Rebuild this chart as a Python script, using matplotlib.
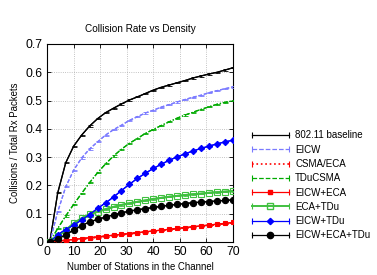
import matplotlib.pyplot as plt
from matplotlib.lines import Line2D
from matplotlib.legend_handler import HandlerBase

plt.rcParams['font.family'] = ['Liberation Sans', 'DejaVu Sans']

stations = list(range(1, 71, 3))

baseline = [0, 0.174, 0.28, 0.339, 0.378, 0.41, 0.436, 0.457, 0.473, 0.488, 0.502, 0.513,
            0.525, 0.537, 0.547, 0.555, 0.563, 0.571, 0.58, 0.587, 0.594, 0.60, 0.608, 0.616]
eicw = [0, 0.107, 0.195, 0.254, 0.297, 0.329, 0.354, 0.378, 0.397, 0.413, 0.43, 0.443,
        0.456, 0.466, 0.477, 0.486, 0.495, 0.504, 0.512, 0.519, 0.528, 0.535, 0.542, 0.548]
csma_eca = [0, 0.003, 0.006, 0.008, 0.011, 0.014, 0.017, 0.02, 0.023, 0.026, 0.029, 0.032,
            0.035, 0.038, 0.041, 0.044, 0.047, 0.05, 0.053, 0.056, 0.059, 0.062, 0.065, 0.068]
tducsma = [0, 0.048, 0.092, 0.133, 0.172, 0.21, 0.245, 0.276, 0.304, 0.328, 0.349, 0.366,
           0.384, 0.398, 0.412, 0.425, 0.438, 0.449, 0.459, 0.469, 0.478, 0.487, 0.494, 0.499]
eicw_eca = [0, 0.003, 0.006, 0.009, 0.012, 0.015, 0.018, 0.021, 0.024, 0.027, 0.03, 0.033,
            0.036, 0.039, 0.042, 0.045, 0.048, 0.051, 0.054, 0.057, 0.06, 0.063, 0.066, 0.069]
eca_tdu = [0, 0.021, 0.042, 0.066, 0.084, 0.098, 0.107, 0.116, 0.124, 0.131, 0.137, 0.142,
           0.147, 0.152, 0.156, 0.16, 0.163, 0.166, 0.169, 0.171, 0.174, 0.176, 0.178, 0.18]
eicw_tdu = [0, 0.026, 0.044, 0.06, 0.078, 0.097, 0.119, 0.138, 0.159, 0.182, 0.204, 0.225,
            0.243, 0.26, 0.275, 0.289, 0.301, 0.312, 0.322, 0.331, 0.339, 0.347, 0.354, 0.36]
eicw_eca_tdu = [0, 0.01, 0.026, 0.042, 0.058, 0.071, 0.08, 0.088, 0.096, 0.103, 0.109, 0.114,
                0.118, 0.122, 0.126, 0.13, 0.133, 0.136, 0.139, 0.141, 0.143, 0.145, 0.147, 0.149]

labels = ['802.11 baseline', 'EICW', 'CSMA/ECA', 'TDuCSMA',
          'EICW+ECA', 'ECA+TDu', 'EICW+TDu', 'EICW+ECA+TDu']
series = [baseline, eicw, csma_eca, tducsma, eicw_eca, eca_tdu, eicw_tdu, eicw_eca_tdu]
colors = ['black', '#7a7aff', 'red', '#00aa00', 'red', '#40c040', '#0000ff', 'black']
styles = ['-', (0, (3, 1.5)), ':', (0, (4, 1.5, 1, 1.5)), '-', '-', '-', '-']
markers = [None, None, None, None, 's', 's', 'D', 'o']
msizes = [0, 0, 0, 0, 3.5, 4, 3.2, 4.5]
mfaces = [None, None, None, None, 'red', 'none', '#0000ff', 'black']
lwidths = [0.9, 0.9, 1.2, 0.9, 0.9, 1.4, 0.9, 0.9]


class CapHandler(HandlerBase):
    def create_artists(self, legend, orig, xd, yd, w, h, fs, trans):
        y = h / 2 - yd
        x0, x1 = -xd, -xd + w
        line = Line2D([x0, x1], [y, y], color=orig.get_color(), lw=orig.get_linewidth(),
                      linestyle=orig.get_linestyle())
        caps = Line2D([x0, x1], [y, y], color=orig.get_color(), lw=0, marker='|',
                      markersize=5, markeredgewidth=0.8)
        arts = [line, caps]
        if orig.get_marker() not in (None, 'None', ''):
            mid = Line2D([(x0 + x1) / 2], [y], color=orig.get_color(), lw=0,
                         marker=orig.get_marker(), markersize=orig.get_markersize(),
                         markerfacecolor=orig.get_markerfacecolor(),
                         markeredgecolor=orig.get_color())
            arts.append(mid)
        for a in arts:
            a.set_transform(trans)
        return arts


fig = plt.figure(figsize=(3.77, 2.75), dpi=100)
ax = fig.add_axes([0.125, 0.12, 0.493, 0.72])

handles = []
for s, lab, c, ls, m, ms, mf, lw in zip(series, labels, colors, styles, markers,
                                        msizes, mfaces, lwidths):
    ax.errorbar(stations, s, yerr=0.002, color=c, ls=ls, lw=lw, capsize=1.8,
                elinewidth=0.6, capthick=0.6, zorder=3)
    h, = ax.plot(stations, s, color=c, ls=ls, lw=lw, marker=m if m else '',
                 markersize=ms, markerfacecolor=mf, markeredgecolor=c,
                 markeredgewidth=0.8, zorder=4)
    handles.append(h)

ax.set_xlim(0, 70)
ax.set_ylim(0, 0.7)
ax.set_xticks(range(0, 71, 10))
ax.set_yticks([0, 0.1, 0.2, 0.3, 0.4, 0.5, 0.6, 0.7])
ax.set_yticklabels(['0', '0.1', '0.2', '0.3', '0.4', '0.5', '0.6', '0.7'])
ax.tick_params(direction='in', top=True, right=True, length=3, width=0.6,
               labelsize=8.7, pad=3)
ax.grid(True, color='#b0b0b0', ls=':', lw=0.6)
for sp in ax.spines.values():
    sp.set_linewidth(0.8)

ax.set_title('Collision Rate vs Density', fontsize=7.2, pad=9)
ax.set_xlabel('Number of Stations in the Channel', fontsize=6.9, labelpad=3)
ax.set_ylabel('Collisions / Total Rx Packets', fontsize=6.9, labelpad=4)

fig.legend(handles, labels, loc='upper left', bbox_to_anchor=(0.658, 0.54),
           handler_map={h: CapHandler() for h in handles}, frameon=False,
           fontsize=7, handlelength=3.8, handletextpad=0.65, labelspacing=0.44,
           borderaxespad=0)

fig.savefig('out.png', dpi=100)
